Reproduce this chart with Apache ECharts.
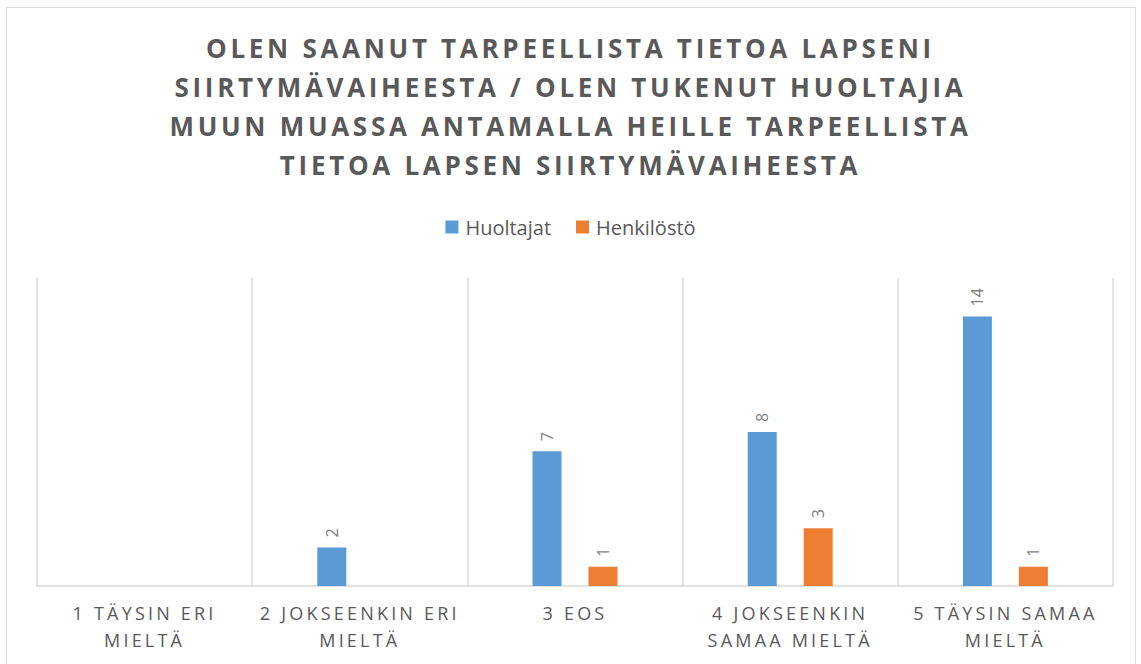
<!DOCTYPE html>
<html>
<head>
<meta charset="utf-8">
<script src="https://cdn.jsdelivr.net/npm/echarts@6/dist/echarts.min.js"></script>
<style>
  html, body { margin: 0; padding: 0; background: #fff; }
  #chart { width: 1141px; height: 664px; }
  /* kirjainväli otsikolle ja akselin nimille */
  #chart text[style*="ttlsp"], #chart text[font-family*="ttlsp"] { letter-spacing: 3.7px; }
  #chart text[style*="axsp"], #chart text[font-family*="axsp"] { letter-spacing: 3.2px; }
</style>
</head>
<body>
<div id="chart"></div>
<script>
  // vastausvaihtoehdot
  var categories = ['1 TÄYSIN ERI\nMIELTÄ', '2 JOKSEENKIN ERI\nMIELTÄ', '3 EOS', '4 JOKSEENKIN\nSAMAA MIELTÄ', '5 TÄYSIN SAMAA\nMIELTÄ'];
  var seriesNames = ['Huoltajat', 'Henkilöstö'];
  var huoltajat = [null, 2, 7, 8, 14];
  var henkilosto = [null, null, 1, 3, 1];

  var titleText = 'OLEN SAANUT TARPEELLISTA TIETOA LAPSENI\nSIIRTYMÄVAIHEESTA / OLEN TUKENUT HUOLTAJIA\nMUUN MUASSA ANTAMALLA HEILLE TARPEELLISTA\nTIETOA LAPSEN SIIRTYMÄVAIHEESTA';

  var chart = echarts.init(document.getElementById('chart'), null, { renderer: 'svg' });

  var labelStyle = {
    show: true,
    position: 'top',
    rotate: 90,
    align: 'left',
    verticalAlign: 'middle',
    distance: 10,
    color: '#7f7f7f',
    fontSize: 16,
    fontFamily: 'Open Sans'
  };

  chart.setOption({
    animation: false,
    color: ['#5b9bd5', '#ed7d31'],
    graphic: [{
      type: 'rect',
      silent: true,
      shape: { x: 6.5, y: 7.5, width: 1129, height: 680 },
      style: { fill: 'none', stroke: '#d9d9d9', lineWidth: 1 }
    }],
    title: {
      text: titleText,
      left: 'center',
      top: 23,
      textStyle: {
        fontFamily: "'Open Sans', ttlsp",
        fontWeight: 'bold',
        fontSize: 26,
        lineHeight: 39,
        color: '#595959'
      }
    },
    legend: {
      data: seriesNames,
      top: 212,
      left: 'center',
      icon: 'rect',
      itemWidth: 13,
      itemHeight: 13,
      itemGap: 25,
      textStyle: {
        fontFamily: 'Open Sans',
        fontSize: 20,
        color: '#595959',
        padding: [0, 0, 0, 2]
      }
    },
    grid: {
      left: 37,
      right: 28,
      top: 278,
      bottom: 78,
      containLabel: false
    },
    xAxis: {
      type: 'category',
      data: categories,
      axisLine: { lineStyle: { color: '#d9d9d9', width: 1.5 } },
      axisTick: { show: false },
      splitLine: { show: true, lineStyle: { color: '#d9d9d9', width: 1.5 } },
      axisLabel: {
        margin: 13,
        interval: 0,
        fontFamily: "'Open Sans', axsp",
        fontSize: 18,
        lineHeight: 27,
        color: '#595959'
      }
    },
    yAxis: {
      type: 'value',
      min: 0,
      max: 16,
      show: false,
      splitLine: { show: false }
    },
    series: [
      {
        name: seriesNames[0],
        type: 'bar',
        data: huoltajat,
        barWidth: 29,
        barGap: '93%',
        label: labelStyle
      },
      {
        name: seriesNames[1],
        type: 'bar',
        data: henkilosto,
        barWidth: 29,
        label: labelStyle
      }
    ]
  });
</script>
</body>
</html>
